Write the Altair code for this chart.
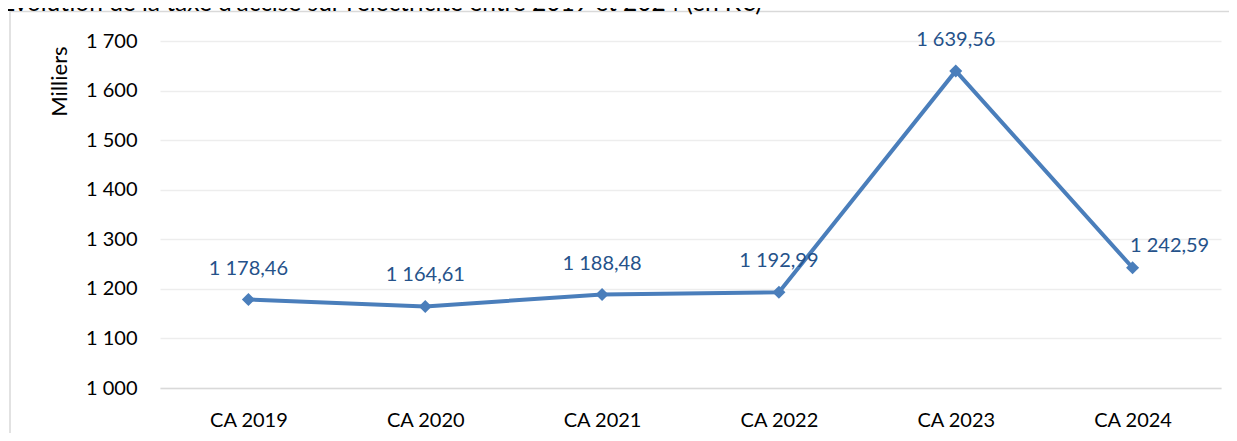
import altair as alt
import pandas as pd

# ---- data ----
categories = ["CA 2019", "CA 2020", "CA 2021", "CA 2022", "CA 2023", "CA 2024"]
values = [1178.46, 1164.61, 1188.48, 1192.99, 1639.56, 1242.59]
y_ticks = [1000, 1100, 1200, 1300, 1400, 1500, 1600, 1700]
title_text = "Évolution de la taxe d'accise sur l'électricité entre 2019 et 2024 (en K€)"
unit_text = "Milliers"


def fr(v):
    return f"{v:,.2f}".replace(",", " ").replace(".", ",")


df = pd.DataFrame({"cat": categories, "val": values, "label": [fr(v) for v in values]})

FONT = "Lato"
FS = 20
LINE = "#4A7EBB"
LABEL = "#25528A"

W, H = 1061, 347

x_enc = alt.X(
    "cat:N",
    sort=categories,
    scale=alt.Scale(type="point", padding=0.5),
    axis=alt.Axis(
        title=None,
        labelAngle=0,
        ticks=False,
        grid=False,
        domain=True,
        domainColor="#D9D9D9",
        domainWidth=1.5,
        labelPadding=22,
        labelFont=FONT,
        labelFontSize=FS,
        labelColor="#000000",
    ),
)
y_enc = alt.Y(
    "val:Q",
    scale=alt.Scale(domain=[1000, 1700], nice=False, zero=False),
    axis=alt.Axis(
        title=None,
        values=y_ticks,
        labelExpr="replace(format(datum.value, ','), ',', ' ')",
        grid=True,
        gridColor="#EDEDED",
        gridWidth=1.5,
        domain=False,
        ticks=False,
        labelPadding=23,
        labelFont=FONT,
        labelFontSize=FS,
        labelColor="#000000",
    ),
)

base = alt.Chart(df)

border = alt.Chart(pd.DataFrame({"b": [0]})).mark_rect(
    fillOpacity=0, stroke="#D9D9D9", strokeWidth=1.5
).encode(
    x=alt.value(-150), x2=alt.value(1082), y=alt.value(-29.5), y2=alt.value(405)
)

title = alt.Chart(pd.DataFrame({"t": [title_text]})).mark_text(
    align="left", baseline="alphabetic", font=FONT, fontSize=24.5, color="#000000"
).encode(x=alt.value(-159), y=alt.value(-30.5), text="t:N")

unit = alt.Chart(pd.DataFrame({"t": [unit_text]})).mark_text(
    align="center", baseline="middle", angle=270, font=FONT, fontSize=22, color="#000000"
).encode(x=alt.value(-100), y=alt.value(40.5), text="t:N")

line = base.mark_line(color=LINE, strokeWidth=4).encode(x=x_enc, y=y_enc)
points = base.mark_point(shape="diamond", filled=True, size=170, color=LINE, opacity=1).encode(
    x=x_enc, y=y_enc
)
labels_main = base.transform_filter(alt.datum.cat != "CA 2024").mark_text(
    dy=-31, baseline="middle", align="center", font=FONT, fontSize=FS, color=LABEL
).encode(x=x_enc, y=y_enc, text="label:N")
labels_last = base.transform_filter(alt.datum.cat == "CA 2024").mark_text(
    dx=37, dy=-22, baseline="middle", align="center", font=FONT, fontSize=FS, color=LABEL
).encode(x=x_enc, y=y_enc, text="label:N")

chart = (
    alt.layer(border, title, unit, line, points, labels_main, labels_last)
    .properties(
        width=W,
        height=H,
        autosize=alt.AutoSizeParams(type="none"),
        padding={"left": 152, "top": 33, "right": 8, "bottom": 45},
        background="white",
    )
    .configure_view(strokeWidth=0)
)

chart.save("out.html", embed_options={"renderer": "svg", "actions": False})
